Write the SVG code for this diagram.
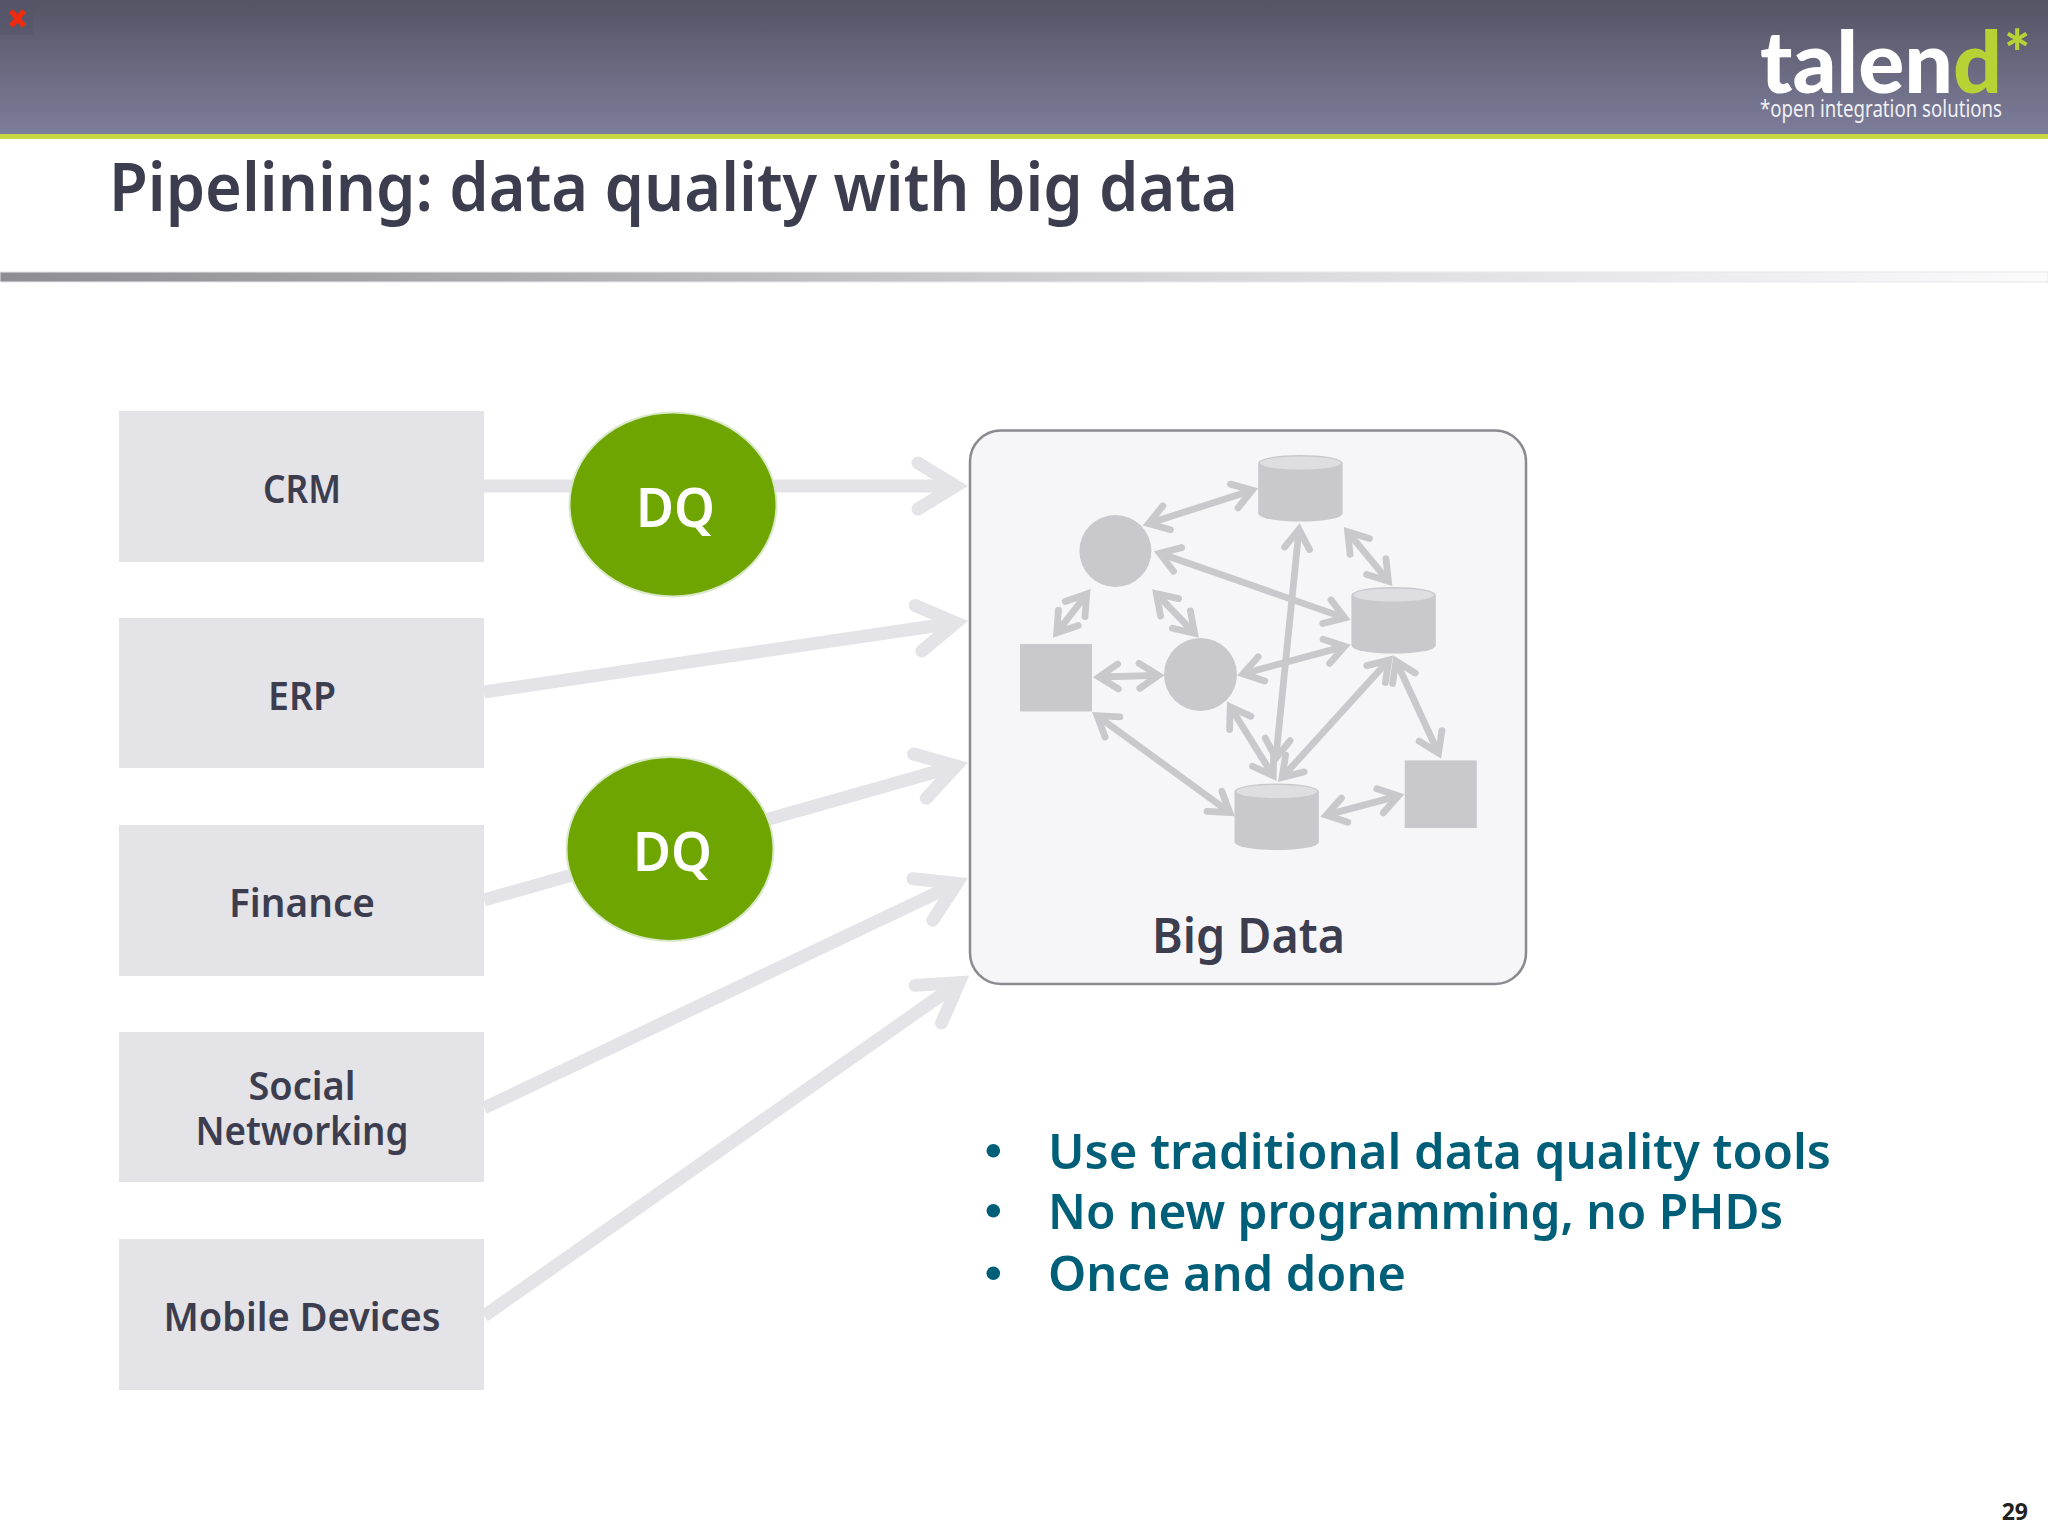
<svg xmlns="http://www.w3.org/2000/svg" xmlns:xlink="http://www.w3.org/1999/xlink" width="2048" height="1536" viewBox="0 0 2048 1536">
<style>
text{font-family:"Noto Sans","Open Sans","DejaVu Sans",sans-serif}
.src{fill:#e4e3e7}
.lbl{font-size:39px;font-weight:600;fill:#3d3d50;text-anchor:middle}
.dq{fill:#6ea500;stroke:#d8e8c8;stroke-width:2}
.dqt{font-size:55px;font-weight:600;fill:#fff}
.out{stroke:#e4e3e7;stroke-width:13;fill:none;marker-end:url(#big)}
.inn{stroke:#c9c8cc;stroke-width:6.8;fill:none;marker-start:url(#small);marker-end:url(#small)}
.sh{fill:#c9c8cc}
.bul{font-size:49px;font-weight:600;fill:#005f78}
</style>
<defs>
<linearGradient id="hd" x1="0" y1="0" x2="0" y2="1"><stop offset="0" stop-color="#555464"/><stop offset="1" stop-color="#7d7d9b"/></linearGradient>
<linearGradient id="bar" x1="0" y1="0" x2="1" y2="0"><stop offset="0" stop-color="#8e8d93"/><stop offset=".6" stop-color="#d8d7db"/><stop offset="1" stop-color="#fbfbfc"/></linearGradient>
<marker id="big" markerUnits="userSpaceOnUse" markerWidth="120" markerHeight="120" refX="60" refY="60" orient="auto"><path d="M22.4,37 L60,60 L22.4,83" fill="none" stroke="#e4e3e7" stroke-width="13" stroke-linecap="round" stroke-linejoin="miter"/></marker>
<marker id="small" markerUnits="userSpaceOnUse" markerWidth="60" markerHeight="60" refX="40" refY="30" orient="auto-start-reverse"><path d="M21,17.5 L40,30 L21,42.5" fill="none" stroke="#c9c8cc" stroke-width="6.8" stroke-linecap="round" stroke-linejoin="miter"/></marker>
<g id="cyl"><path class="sh" d="M0,8 A42.2,8 0 0 1 84.4,8 V58.6 A42.2,8 0 0 1 0,58.6 Z"/><ellipse cx="42.2" cy="8" rx="40.5" ry="6.6" fill="#dedde1"/></g>
</defs>
<rect width="2048" height="134" fill="url(#hd)"/>
<rect y="134" width="2048" height="5" fill="#c8d845"/>
<rect width="33" height="35" fill="#54536a" opacity=".5"/>
<path d="M11,11 L24,26 M24,11 L11,26" stroke="#ee2a10" stroke-width="5.5" fill="none"/>
<text x="1760" y="93" font-size="86" font-weight="900" textLength="242" style="font-family:Lato,'Noto Sans',sans-serif" fill="#fff">talen<tspan fill="#b5d334">d</tspan></text>
<text x="2004" y="76" font-size="62" font-weight="900" style="font-family:Lato,'Noto Sans',sans-serif" fill="#b5d334">*</text>
<text x="1760" y="117" font-size="23" textLength="242" lengthAdjust="spacingAndGlyphs" fill="#f0f0f4">*open integration solutions</text>
<text x="109" y="211" font-size="66" font-weight="600" textLength="1129" lengthAdjust="spacingAndGlyphs" fill="#3d3d50">Pipelining: data quality with big data</text>
<rect y="272" width="2048" height="10" fill="url(#bar)" stroke="#e8e8ec" stroke-width="1"/>
<g id="connectors">
<line class="out" x1="484" y1="486" x2="955.6" y2="486"/>
<line class="out" x1="484" y1="692" x2="955.7" y2="622.8"/>
<line class="out" x1="484" y1="900" x2="956.1" y2="765.9"/>
<line class="out" x1="484" y1="1108" x2="956.8" y2="883.3"/>
<line class="out" x1="484" y1="1316" x2="959.1" y2="982.6"/>
</g>
<g id="crm"><rect class="src" x="119" y="411" width="365" height="151"/><text class="lbl" x="302" y="503" textLength="78" lengthAdjust="spacingAndGlyphs">CRM</text></g>
<g id="erp"><rect class="src" x="119" y="618" width="365" height="150"/><text class="lbl" x="302" y="710" textLength="68" lengthAdjust="spacingAndGlyphs">ERP</text></g>
<g id="finance"><rect class="src" x="119" y="825" width="365" height="151"/><text class="lbl" x="302" y="917" textLength="146" lengthAdjust="spacingAndGlyphs">Finance</text></g>
<g id="social"><rect class="src" x="119" y="1032" width="365" height="150"/><text class="lbl" x="302" y="1100" textLength="107" lengthAdjust="spacingAndGlyphs">Social</text><text class="lbl" x="302" y="1145" textLength="213" lengthAdjust="spacingAndGlyphs">Networking</text></g>
<g id="mobile"><rect class="src" x="119" y="1239" width="365" height="151"/><text class="lbl" x="302" y="1331" textLength="277" lengthAdjust="spacingAndGlyphs">Mobile Devices</text></g>
<g id="dq1"><ellipse class="dq" cx="673" cy="504.5" rx="103.5" ry="92"/><text class="dqt" x="636" y="527" textLength="79" lengthAdjust="spacingAndGlyphs">DQ</text></g>
<g id="dq2"><ellipse class="dq" cx="670" cy="849" rx="103.5" ry="92"/><text class="dqt" x="633" y="871" textLength="79" lengthAdjust="spacingAndGlyphs">DQ</text></g>
<g id="bigdata">
<rect x="970" y="430.5" width="556" height="553.5" rx="31" fill="#f6f6f9" stroke="#8a8a90" stroke-width="2.5"/>
<text x="1152" y="953" font-size="49" font-weight="600" textLength="193" lengthAdjust="spacingAndGlyphs" fill="#3d3d50">Big Data</text>
</g>
<g id="inner-connectors">
<line class="inn" x1="1148.6" y1="523.6" x2="1252.3" y2="490.2"/>
<line class="inn" x1="1159.7" y1="553.2" x2="1344.8" y2="617.9"/>
<line class="inn" x1="1086.7" y1="594" x2="1056.7" y2="632.9"/>
<line class="inn" x1="1156.4" y1="593.6" x2="1194.6" y2="633.3"/>
<line class="inn" x1="1099" y1="677" x2="1158.4" y2="675.4"/>
<line class="inn" x1="1243.1" y1="673.8" x2="1344.7" y2="646.4"/>
<line class="inn" x1="1299" y1="529.4" x2="1275.8" y2="758.3"/>
<line class="inn" x1="1347.7" y1="531.8" x2="1388.4" y2="581.2"/>
<line class="inn" x1="1388.9" y1="660" x2="1282.1" y2="777.5"/>
<line class="inn" x1="1230.2" y1="706.8" x2="1273.2" y2="775.8"/>
<line class="inn" x1="1097.1" y1="715.7" x2="1229.8" y2="812.5"/>
<line class="inn" x1="1326.3" y1="815.1" x2="1398.4" y2="795.9"/>
<line class="inn" x1="1396" y1="661" x2="1438.5" y2="753.2"/>
</g>
<g id="db1"><use xlink:href="#cyl" href="#cyl" x="1258.2" y="455"/></g>
<g id="db2"><use xlink:href="#cyl" href="#cyl" x="1351.4" y="587"/></g>
<g id="db3"><use xlink:href="#cyl" href="#cyl" x="1234.5" y="783.5"/></g>
<g id="c1"><circle class="sh" cx="1115.4" cy="551" r="36"/></g>
<g id="c2"><circle class="sh" cx="1200.5" cy="674.5" r="36.5"/></g>
<g id="s1"><rect class="sh" x="1020" y="644" width="72" height="67.5"/></g>
<g id="s2"><rect class="sh" x="1404.7" y="760.4" width="72.1" height="67.6"/></g>
<g id="bullets">
<circle cx="993.3" cy="1150.7" r="6.8" fill="#005f78"/><text class="bul" x="1048" y="1168.5" textLength="783" lengthAdjust="spacingAndGlyphs">Use traditional data quality tools</text>
<circle cx="993.3" cy="1210.7" r="6.8" fill="#005f78"/><text class="bul" x="1048" y="1228.5" textLength="735" lengthAdjust="spacingAndGlyphs">No new programming, no PHDs</text>
<circle cx="993.3" cy="1273.3" r="6.8" fill="#005f78"/><text class="bul" x="1048" y="1291" textLength="358" lengthAdjust="spacingAndGlyphs">Once and done</text>
</g>
<text x="2028" y="1520" font-size="23" font-weight="700" text-anchor="end" fill="#222">29</text>
</svg>
